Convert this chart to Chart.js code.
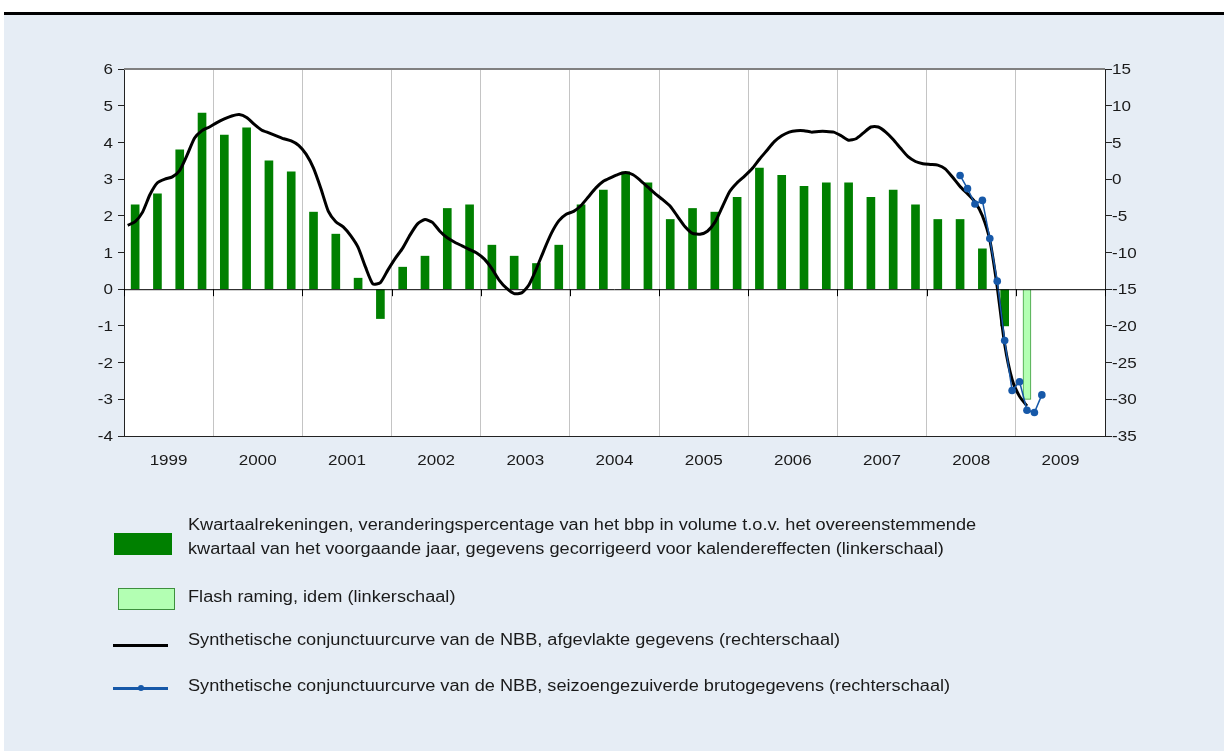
<!DOCTYPE html>
<html>
<head>
<meta charset="utf-8">
<script src="https://cdn.jsdelivr.net/npm/chart.js@4.4.1/dist/chart.umd.min.js"></script>
<style>
html,body{margin:0;padding:0;background:#fff;}
body{width:1224px;height:751px;position:relative;overflow:hidden;font-family:"Liberation Sans",Arial,sans-serif;}
#topline{position:absolute;left:4px;top:12px;width:1220px;height:3px;background:#000;}
#panel{position:absolute;left:4px;top:15px;width:1220px;height:736px;background:#e6edf5;}
#c{position:absolute;left:0;top:0;}
.lg{position:absolute;font-size:16px;color:#1a1a1a;line-height:24px;white-space:nowrap;transform:scaleX(1.135);transform-origin:0 50%;}
.sw{position:absolute;}
</style>
</head>
<body>
<div id="topline"></div>
<div id="panel"></div>
<canvas id="c" width="1224" height="751"></canvas>

<div class="sw" style="left:114px;top:533px;width:58px;height:22px;background:#008000;"></div>
<div class="lg" style="left:188px;top:513px;">Kwartaalrekeningen, veranderingspercentage van het bbp in volume t.o.v. het overeenstemmende<br>kwartaal van het voorgaande jaar, gegevens gecorrigeerd voor kalendereffecten (linkerschaal)</div>

<div class="sw" style="left:118px;top:588px;width:55px;height:20px;background:#b3ffb3;border:1px solid #3d8f3d;"></div>
<div class="lg" style="left:188px;top:585px;">Flash raming, idem (linkerschaal)</div>

<div class="sw" style="left:113px;top:644px;width:55px;height:3px;background:#000;"></div>
<div class="lg" style="left:188px;top:628px;">Synthetische conjunctuurcurve van de NBB, afgevlakte gegevens (rechterschaal)</div>

<div class="sw" style="left:113px;top:687px;width:55px;height:3px;background:#1658a8;"></div>
<div class="sw" style="left:138px;top:685px;width:6px;height:6px;border-radius:3px;background:#1658a8;"></div>
<div class="lg" style="left:188px;top:674px;">Synthetische conjunctuurcurve van de NBB, seizoengezuiverde brutogegevens (rechterschaal)</div>

<script>
// ---- data ----
const years = ['1999','2000','2001','2002','2003','2004','2005','2006','2007','2008','2009'];

// GDP y-o-y growth, quarterly, 1999 Q1 .. 2008 Q4 (left scale)
const gdpQuarterly = [
  2.3, 2.6, 3.8, 4.8,
  4.2, 4.4, 3.5, 3.2,
  2.1, 1.5, 0.3, -0.8,
  0.6, 0.9, 2.2, 2.3,
  1.2, 0.9, 0.7, 1.2,
  2.3, 2.7, 3.2, 2.9,
  1.9, 2.2, 2.1, 2.5,
  3.3, 3.1, 2.8, 2.9,
  2.9, 2.5, 2.7, 2.3,
  1.9, 1.9, 1.1, -1.0
];
// Flash estimate, 2009 Q1 (left scale)
const flashQuarterIndex = 40;   // quarter number counted from 1999 Q1
const flashValue = [-3.0];

// Smoothed business curve, monthly Jan 1999 .. Feb 2009 (right scale)
const curveSmoothed = [
  -6.3, -5.8, -4.5, -2.1, -0.5, 0.0, 0.3, 1.2, 3.3, 5.6, 6.6, 7.1,
  7.7, 8.2, 8.6, 8.8, 8.4, 7.5, 6.7, 6.3, 5.9, 5.5, 5.2, 4.6,
  3.4, 1.5, -1.3, -4.4, -5.8, -6.5, -7.7, -9.3, -12.0, -14.3, -14.1, -12.4,
  -10.8, -9.4, -7.6, -6.1, -5.5, -5.9, -7.1, -8.0, -8.6, -9.1, -9.6, -10.1,
  -10.9, -12.2, -13.8, -14.9, -15.6, -15.5, -14.4, -12.2, -9.7, -7.4, -5.7, -4.8,
  -4.4, -3.6, -2.4, -1.2, -0.3, 0.2, 0.65, 0.9, 0.6, -0.2, -1.1, -2.0,
  -2.8, -3.7, -5.1, -6.5, -7.4, -7.5, -7.1, -5.9, -3.8, -1.7, -0.5, 0.4,
  1.4, 2.7, 3.9, 5.1, 5.9, 6.4, 6.6, 6.6, 6.4, 6.5, 6.5, 6.4,
  5.9, 5.3, 5.5, 6.3, 7.1, 7.1, 6.4, 5.4, 4.2, 3.05, 2.4, 2.1,
  2.0, 1.9, 1.4, 0.25, -1.0, -2.0, -3.1, -5.0, -8.3, -14.7, -22.5, -27.3,
  -29.6, -30.9
];

// Seasonally adjusted raw curve, monthly May 2008 .. Apr 2009 (right scale)
const rawStartMonth = 112;     // months after Jan 1999 (May 2008)
const curveRaw = [0.5, -1.3, -3.4, -2.9, -8.1, -13.9, -22.0, -28.8, -27.6, -31.5, -31.8, -29.4];

// ---- build library tables ----
const barData = gdpQuarterly.map((v, i) => ({x: 3 * i + 1.5, y: v}));
const flashData = flashValue.map(v => ({x: 3 * flashQuarterIndex + 1.5, y: v}));
const smoothData = curveSmoothed.map((v, i) => ({x: i + 0.5, y: v}));
const rawData = curveRaw.map((v, i) => ({x: rawStartMonth + i + 0.5, y: v}));
const totalMonths = years.length * 12;

const STRETCH = 1.135;
const FONT = '15px "Liberation Sans", Arial, sans-serif';
const TXT = '#1a1a1a';

function stretchedText(ctx, text, x, y, align) {
  ctx.save();
  ctx.translate(x, y);
  ctx.scale(STRETCH, 1);
  ctx.textAlign = align;
  ctx.textBaseline = 'middle';
  ctx.fillText(text, 0, 0);
  ctx.restore();
}

const decor = {
  id: 'decor',
  beforeDraw(chart) {
    const {ctx, chartArea: a} = chart;
    ctx.save();
    ctx.fillStyle = '#ffffff';
    ctx.fillRect(a.left, a.top, a.right - a.left, a.bottom - a.top);
    ctx.restore();
  },
  afterDatasetsDraw(chart) {
    const {ctx, chartArea: a, scales} = chart;
    const y0 = scales.y.getPixelForValue(0);
    ctx.save();
    ctx.strokeStyle = '#000';
    ctx.lineWidth = 1;
    ctx.beginPath();
    ctx.moveTo(a.left, y0 + 0.5); ctx.lineTo(a.right, y0 + 0.5);
    for (let i = 0; i <= years.length; i++) {
      const x = Math.round(scales.x.getPixelForValue(i * 12)) + 0.5;
      ctx.moveTo(x, y0); ctx.lineTo(x, y0 + 7);
    }
    ctx.stroke();
    ctx.strokeStyle = '#808080';
    ctx.lineWidth = 2;
    ctx.beginPath();
    ctx.moveTo(a.left, a.top); ctx.lineTo(a.right, a.top);
    ctx.stroke();
    ctx.restore();
  },
  afterDraw(chart) {
    const {ctx, chartArea: a, scales} = chart;
    ctx.save();
    ctx.font = FONT;
    ctx.fillStyle = TXT;
    // year labels centred in each year
    const sx = scales.x;
    years.forEach((lab, i) => {
      const cx = (sx.getPixelForValue(i * 12) + sx.getPixelForValue(i * 12 + 12)) / 2;
      stretchedText(ctx, lab, cx, sx.top + 25, 'center');
    });
    scales.y.ticks.forEach(t => {
      stretchedText(ctx, String(t.value), a.left - 11, scales.y.getPixelForValue(t.value) + 1, 'right');
    });
    scales.y2.ticks.forEach(t => {
      stretchedText(ctx, String(t.value), a.right + 7, scales.y2.getPixelForValue(t.value) + 1, 'left');
    });
    ctx.restore();
  }
};

const font = {family: '"Liberation Sans", Arial, sans-serif', size: 15};
const hidden = 'rgba(0,0,0,0)';

new Chart(document.getElementById('c'), {
  type: 'bar',
  data: {
    datasets: [
      {type: 'line', data: rawData, yAxisID: 'y2', borderColor: '#1658a8', backgroundColor: '#1658a8',
       borderWidth: 1.5, pointRadius: 3.8, pointBorderWidth: 0, tension: 0, order: 0},
      {type: 'line', data: smoothData, yAxisID: 'y2', borderColor: '#000', borderWidth: 3,
       pointRadius: 0, tension: 0.2, order: 1},
      {type: 'bar', data: barData, yAxisID: 'y', backgroundColor: '#008000', barThickness: 8,
       grouped: false, order: 3},
      {type: 'bar', data: flashData, yAxisID: 'y', backgroundColor: '#b3ffb3', borderColor: '#3d9a3d',
       borderWidth: 1, barThickness: 8, grouped: false, order: 2}
    ]
  },
  options: {
    responsive: false,
    devicePixelRatio: 1,
    animation: false,
    layout: {padding: {left: 60, right: 55, top: 69, bottom: 275}},
    plugins: {legend: {display: false}, tooltip: {enabled: false}},
    scales: {
      x: {
        type: 'linear', min: 0, max: totalMonths, offset: false,
        afterBuildTicks: s => { s.ticks = years.concat(['']).map((_, i) => ({value: i * 12})); },
        afterFit: s => { s.height = 40; },
        grid: {color: '#c4c4c4', lineWidth: 1, drawTicks: false, offset: false},
        border: {color: '#222', width: 1},
        ticks: {callback: (v, i) => years[i] || '', padding: 17, maxRotation: 0, autoSkip: false,
                font, color: hidden}
      },
      y: {
        position: 'left', min: -4, max: 6,
        afterFit: s => { s.width = 64; },
        ticks: {stepSize: 1, font, color: hidden, padding: 5},
        grid: {color: hidden, tickColor: '#222', tickLength: 6},
        border: {color: '#222', width: 1}
      },
      y2: {
        position: 'right', min: -35, max: 15,
        afterFit: s => { s.width = 64; },
        ticks: {stepSize: 5, font, color: hidden, padding: 2},
        grid: {drawOnChartArea: false, tickColor: '#222', tickLength: 7},
        border: {color: '#222', width: 1}
      }
    }
  },
  plugins: [decor]
});
</script>
</body>
</html>
